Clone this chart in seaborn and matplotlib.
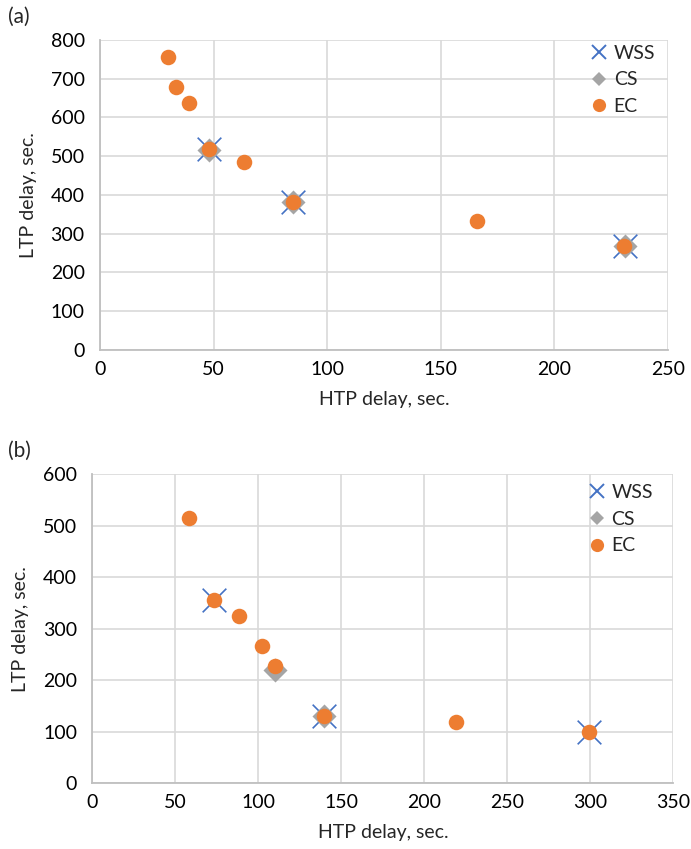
import matplotlib
matplotlib.use("Agg")
import matplotlib.pyplot as plt
import seaborn as sns
import pandas as pd
from matplotlib.lines import Line2D

sns.set_theme(style="white")
plt.rcParams["font.family"] = ["Lato", "DejaVu Sans"]

# Panel (a) data
a_wss_htp = [48, 85, 231]
a_wss_ltp = [518, 383, 268]
a_cs_htp = [48, 85, 231]
a_cs_ltp = [516, 381, 268]
a_ec_htp = [30.1, 33.3, 39.2, 48, 63.2, 85.1, 165.8, 230.8]
a_ec_ltp = [757, 679, 637, 518, 486, 383, 334, 268]

# Panel (b) data
b_wss_htp = [73.5, 139.4, 299.5]
b_wss_ltp = [355, 131, 99]
b_cs_htp = [110.2, 139.4]
b_cs_ltp = [220, 131]
b_ec_htp = [58.4, 73.5, 88.2, 102.4, 110.2, 139.4, 219.1, 299.2]
b_ec_ltp = [515, 355, 324, 266, 228, 131, 118, 99]

series_names = ["WSS", "CS", "EC"]
colors = {"WSS": "#4472C4", "CS": "#A5A5A5", "EC": "#ED7D31"}

a_xticks = [0, 50, 100, 150, 200, 250]
a_yticks = [0, 100, 200, 300, 400, 500, 600, 700, 800]
b_xticks = [0, 50, 100, 150, 200, 250, 300, 350]
b_yticks = [0, 100, 200, 300, 400, 500, 600]

FS = 14

fig = plt.figure(figsize=(6.91, 8.49), dpi=100)
ax_a = fig.add_axes([0.1447, 0.5878, 0.9667 - 0.1447, 0.9529 - 0.5878])
ax_b = fig.add_axes([0.1336, 0.0774, 0.9744 - 0.1336, 0.4417 - 0.0774])


def draw_panel(ax, wss, cs, ec, xticks, yticks, tag, legend_anchor):
    frames = []
    for name, (xs, ys) in zip(series_names, [wss, cs, ec]):
        frames.append(pd.DataFrame({"htp": xs, "ltp": ys, "series": name}))
    df = pd.concat(frames, ignore_index=True)

    sub = df[df.series == "WSS"]
    sns.scatterplot(data=sub, x="htp", y="ltp", ax=ax, marker="x", s=290,
                    color=colors["WSS"], linewidth=1.2, zorder=3, legend=False)
    sub = df[df.series == "CS"]
    sns.scatterplot(data=sub, x="htp", y="ltp", ax=ax, marker="D", s=150,
                    color=colors["CS"], linewidth=0, zorder=4, legend=False)
    sub = df[df.series == "EC"]
    sns.scatterplot(data=sub, x="htp", y="ltp", ax=ax, marker="o", s=125,
                    color=colors["EC"], linewidth=0, zorder=5, legend=False)

    ax.set_xlim(xticks[0], xticks[-1])
    ax.set_ylim(yticks[0], yticks[-1])
    ax.set_xticks(xticks)
    ax.set_yticks(yticks)
    ax.grid(True, color="#D9D9D9", linewidth=1.2)
    ax.set_axisbelow(True)
    for side in ["top", "right"]:
        ax.spines[side].set_visible(False)
    for side in ["left", "bottom"]:
        ax.spines[side].set_color("#BFBFBF")
        ax.spines[side].set_linewidth(1.3)
    ax.tick_params(axis="both", length=0, labelsize=FS, colors="#000000")
    ax.tick_params(axis="x", pad=8)
    ax.tick_params(axis="y", pad=11)
    ax.set_xlabel("HTP delay, sec.", fontsize=FS, labelpad=9)
    ax.set_ylabel("LTP delay, sec.", fontsize=FS, labelpad=10)

    handles = [
        Line2D([], [], linestyle="none", marker="x", markersize=10,
               markeredgewidth=1.4, color=colors["WSS"]),
        Line2D([], [], linestyle="none", marker="D", markersize=7,
               markeredgewidth=0, color=colors["CS"]),
        Line2D([], [], linestyle="none", marker="o", markersize=9.5,
               markeredgewidth=0, color=colors["EC"]),
    ]
    ax.legend(handles, series_names, loc="upper left",
              bbox_to_anchor=legend_anchor, frameon=False, fontsize=FS,
              handlelength=0.8, handletextpad=0.35, labelspacing=0.5,
              borderaxespad=0.0, borderpad=0.0)
    fig.text(0.012, ax.get_position().y1 + 0.027, tag, fontsize=15,
             va="center", ha="left")


draw_panel(ax_a, (a_wss_htp, a_wss_ltp), (a_cs_htp, a_cs_ltp),
           (a_ec_htp, a_ec_ltp), a_xticks, a_yticks, "(a)", (0.865, 0.985))
draw_panel(ax_b, (b_wss_htp, b_wss_ltp), (b_cs_htp, b_cs_ltp),
           (b_ec_htp, b_ec_ltp), b_xticks, b_yticks, "(b)", (0.855, 0.968))

fig.savefig("out.png", dpi=100)
